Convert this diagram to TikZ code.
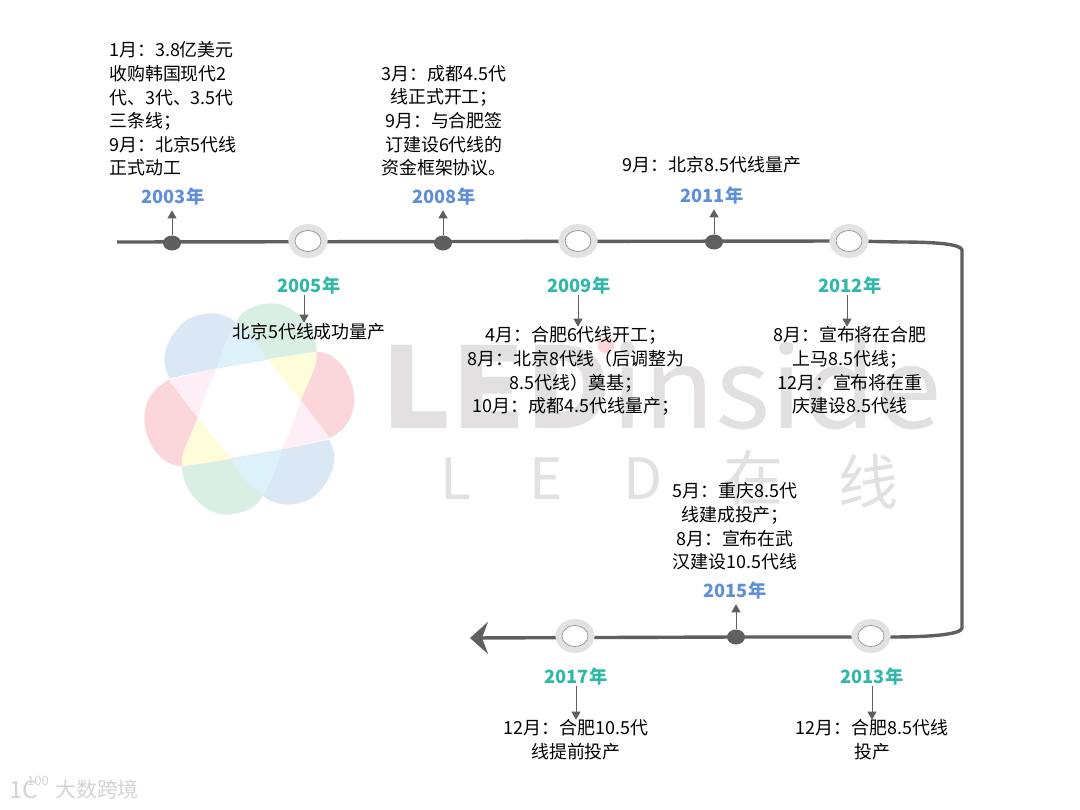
\documentclass[tikz,border=0pt]{standalone}
\usepackage{fontspec}
\usepackage{graphicx}
\setmainfont{Noto Sans CJK SC}
\usetikzlibrary{arrows.meta, positioning, shapes.geometric, backgrounds}
\definecolor{mGrey}{HTML}{5F5F5F}
\definecolor{mRing}{HTML}{E2E2E2}
\definecolor{mBlue}{HTML}{5F8FD8}
\definecolor{mTeal}{HTML}{2FB8A8}
\definecolor{mMark}{HTML}{E2E0E0}
\definecolor{mFaint}{HTML}{D4D4D4}
\definecolor{mPetalB}{HTML}{D9E8F4}
\definecolor{mPetalG}{HTML}{DAEFE4}
\definecolor{mPetalR}{HTML}{FBD7DC}
\definecolor{mOverB}{HTML}{DDF1FA}
\definecolor{mOverY}{HTML}{FEFCD9}
\definecolor{mOverP}{HTML}{FDEFF5}
\begin{document}
\begin{tikzpicture}[x=1bp, y=-1bp,
  node distance=10bp and 10bp,
  dot/.style={ellipse, fill=mGrey, inner sep=0pt, minimum width=18bp, minimum height=15bp},
  ring/.style={ellipse, draw=mGrey!70, line width=0.7bp, fill=white, inner sep=0pt,
               minimum width=26bp, minimum height=21bp,
               preaction={draw=mRing, line width=13bp}},
  year/.style={inner sep=0pt, xshift=1bp, text=#1, font=\fontsize{18.3}{20}\selectfont\bfseries},
  info/.style={inner sep=0pt, align=center, text=black, font=\fontsize{18}{23.7}\selectfont},
  arr/.style={-{Triangle[length=8bp, width=9bp]}, line width=0.9bp, draw=mGrey},
  tline/.style={line width=3.4bp, draw=mGrey},
  wmark/.style={inner sep=0pt, text=mMark, font=\fontsize{#1}{#1}\selectfont}]
  \useasboundingbox (0,0) rectangle (1080,810);
  % flower
  \foreach \ang in {0,180} {
    \begin{scope}[shift={(249.3,409)}, x=0.3333bp, y=-0.3333bp, rotate=\ang]
      \fill[mPetalB] (-98,-122) -- plot[smooth, tension=0.6] coordinates {(-240,-92) (-253,-127) (-253,-167) (-233,-217) (-188,-267) (-123,-287) (-73,-279) (-40,-260) (17,-207) (53,-150)} -- cycle;
      \fill[mPetalG] (-98,-122) -- plot[smooth, tension=0.6] coordinates {(-98,-122) (-68,-207) (-40,-260) (-8,-297) (62,-317) (122,-302) (172,-257) (197,-207) (202,-172)} -- cycle;
      \fill[mPetalR] (154,-27) -- (202,-172) -- plot[smooth, tension=0.6] coordinates {(202,-172) (242,-162) (282,-127) (307,-77) (315,-27) (307,18) (282,58) (242,88)} -- cycle;
      \fill[mOverB] (-98,-122) -- (53,-150) -- plot[smooth, tension=0.6] coordinates {(53,-150) (17,-207) (-40,-260)} -- plot[smooth, tension=0.6] coordinates {(-40,-260) (-68,-207) (-98,-122)} -- cycle;
      \fill[mOverY] (53,-150) -- (202,-172) -- plot[smooth, tension=0.6] coordinates {(202,-172) (197,-127) (154,-27)} -- cycle;
      \fill[mOverP] (154,-27) -- (242,88) -- (98,122) -- plot[smooth, tension=0.6] coordinates {(98,122) (132,43) (154,-27)} -- cycle;
    \end{scope}
  }
  % watermark
  \node[wmark=112, anchor=base west] (logo) at (381,428) {\scalebox{1.055}[1]{\textbf{LED}inside}};
  \fill[mPetalR] (606,345) circle (8.5);
  \foreach \n/\lab/\px in {la/L/456, lb/E/546, lc/D/643}
    \node[wmark=57] (\n) at (\px,479) {\lab};
  \node[wmark=60] (zai) at (753,478) {在};
  \node[wmark=60] (xian) at (868,482) {线};
  % footer
  \node[wmark=24, text=mFaint, anchor=west] (fa) at (9,790) {1C};
  \node[wmark=13, text=mFaint, anchor=west] (fb) at (27,781) {100};
  \node[wmark=21, text=mFaint, anchor=west] (fc) at (55,790) {大数跨境};
  % markers, upper row
  \node[dot] (d2003) at (172,243) {};
  \node[ring] (d2005) at (308,241) {};
  \node[dot] (d2008) at (443,243) {};
  \node[ring] (d2009) at (578,241) {};
  \node[dot] (d2011) at (714,242) {};
  \node[ring] (d2012) at (849,241) {};
  % markers, lower row
  \node[ring] (d2013) at (871,636) {};
  \node[dot] (d2015) at (736,637) {};
  \node[ring] (d2017) at (575,636) {};
  % timeline
  \coordinate (lstart) at (117,242);
  \coordinate (lend) at (470,638);
  \begin{scope}[on background layer]
    \draw[tline, -{Stealth[length=18bp, width=32bp, inset=6bp]}] (lstart) -- (d2012.center) -- (900,242) .. controls (935,242) and (961,244) .. (962,250) -- (962,628)
      .. controls (961,634) and (935,637) .. (890,637) -- (d2015.center) -- (lend);
  \end{scope}
  % years
  \node[year=mBlue, above=30bp of d2003] (y2003) {2003年};
  \node[year=mTeal, below=25bp of d2005] (y2005) {2005年};
  \node[year=mBlue, above=30bp of d2008] (y2008) {2008年};
  \node[year=mTeal, below=25bp of d2009] (y2009) {2009年};
  \node[year=mBlue, above=30bp of d2011, xshift=-3bp] (y2011) {2011年};
  \node[year=mTeal, below=25bp of d2012] (y2012) {2012年};
  \node[year=mTeal, below=21bp of d2013] (y2013) {2013年};
  \node[year=mBlue, above=30bp of d2015, xshift=-2bp] (y2015) {2015年};
  \node[year=mTeal, below=21bp of d2017] (y2017) {2017年};
  % texts
  \node[info, align=left, above=11bp of y2003] (t2003) {1月：3.8亿美元\\收购韩国现代2\\代、3代、3.5代\\三条线；\\9月：北京5代线\\正式动工};
  \node[info, above=11bp of y2008] (t2008) {3月：成都4.5代\\线正式开工；\\9月：与合肥签\\订建设6代线的\\资金框架协议。};
  \node[info, above=13bp of y2011] (t2011) {9月：北京8.5代线量产};
  \node[info, above=11bp of y2015] (t2015) {5月：重庆8.5代\\线建成投产；\\8月：宣布在武\\汉建设10.5代线};
  \node[info, below=28bp of y2005] (t2005) {北京5代线成功量产};
  \node[info, below=32bp of y2009, xshift=-3bp] (t2009) {4月：合肥6代线开工；\\8月：北京8代线（后调整为\\8.5代线）奠基；\\10月：成都4.5代线量产；};
  \node[info, below=32bp of y2012] (t2012) {8月：宣布将在合肥\\上马8.5代线；\\12月：宣布将在重\\庆建设8.5代线};
  \node[info, below=34bp of y2013] (t2013) {12月：合肥8.5代线\\投产};
  \node[info, below=34bp of y2017] (t2017) {12月：合肥10.5代\\线提前投产};
  % arrows
  \foreach \n in {2003, 2008, 2011, 2015}
    \draw[arr, shorten >=5bp] (d\n) -- (d\n |- y\n.south);
  \draw[arr] ([xshift=-5bp]y2005.south) -- ([xshift=-5bp]y2005.south |- t2005.north);
  \draw[arr] ([xshift=-1bp]y2009.south) -- ([xshift=-1bp]y2009.south |- t2009.north);
  \draw[arr] ([xshift=-3bp]y2012.south) -- ([xshift=-3bp]y2012.south |- t2012.north);
  \draw[arr] (y2013.south) -- (y2013.south |- t2013.north);
  \draw[arr] (y2017.south) -- (y2017.south |- t2017.north);
\end{tikzpicture}
\end{document}
